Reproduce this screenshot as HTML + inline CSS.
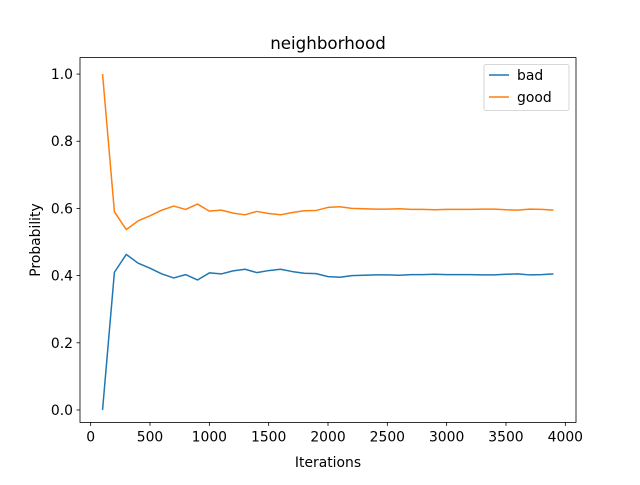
<!DOCTYPE html>
<html><head><meta charset="utf-8"><style>
body{margin:0;background:#fff;font-family:"Liberation Sans","DejaVu Sans",sans-serif}
svg text{font-family:"DejaVu Sans","Liberation Sans",sans-serif;font-size:13.9px;fill:#000}
</style></head><body>
<svg id="c" width="640" height="480">
<rect width="640" height="480" fill="#fff"/>
</svg>
<script>
const iterations=[100,200,300,400,500,600,700,800,900,1000,1100,1200,1300,1400,1500,1600,1700,1800,1900,2000,2100,2200,2300,2400,2500,2600,2700,2800,2900,3000,3100,3200,3300,3400,3500,3600,3700,3800,3900];
const badValues=[0,0.41,0.463,0.437,0.422,0.405,0.393,0.403,0.387,0.408,0.405,0.414,0.419,0.409,0.415,0.419,0.412,0.407,0.406,0.397,0.395,0.400,0.401,0.402,0.402,0.401,0.403,0.403,0.404,0.403,0.403,0.403,0.402,0.402,0.404,0.405,0.402,0.403,0.405];
const goodValues=[1,0.59,0.537,0.563,0.578,0.595,0.607,0.597,0.613,0.592,0.595,0.586,0.581,0.591,0.585,0.581,0.588,0.593,0.594,0.603,0.605,0.600,0.599,0.598,0.598,0.599,0.597,0.597,0.596,0.597,0.597,0.597,0.598,0.598,0.596,0.595,0.598,0.597,0.595];
const xTicks=[0,500,1000,1500,2000,2500,3000,3500,4000];
const yTicks=[0,0.2,0.4,0.6,0.8,1.0];
const yTickLabels=["0.0","0.2","0.4","0.6","0.8","1.0"];
const L=80,R=576,T=57.6,B=422.4;
const xmin=-90,xmax=4090,ymin=-0.037,ymax=1.049;
const X=v=>L+(v-xmin)/(xmax-xmin)*(R-L);
const Y=v=>B-(v-ymin)/(ymax-ymin)*(B-T);
const svg=document.getElementById('c');const NS='http://www.w3.org/2000/svg';
function mk(t,a,p){const e=document.createElementNS(NS,t);for(const k in a)e.setAttribute(k,a[k]);(p||svg).appendChild(e);return e;}
function line(vals,color,name){
const p=mk('polyline',{points:iterations.map((x,i)=>X(x)+','+Y(vals[i])).join(' '),fill:'none',stroke:color,'stroke-width':1.5,'stroke-linejoin':'round'});

}
line(badValues,'#1f77b4','series-bad');
line(goodValues,'#ff7f0e','series-good');
const fr=mk('rect',{x:L,y:T,width:R-L,height:B-T,fill:'none',stroke:'#000','stroke-width':0.8});


xTicks.forEach(v=>{mk('line',{x1:X(v),x2:X(v),y1:B,y2:B+3.5,stroke:'#000','stroke-width':0.8});
const t=mk('text',{x:X(v),y:B+19,'text-anchor':'middle'});t.textContent=v;

});
yTicks.forEach((v,i)=>{mk('line',{x1:L-3.5,x2:L,y1:Y(v),y2:Y(v),stroke:'#000','stroke-width':0.8});
const t=mk('text',{x:L-7,y:Y(v)+5,'text-anchor':'end'});t.textContent=yTickLabels[i];

});
let t=mk('text',{x:(L+R)/2,y:467,'text-anchor':'middle'});t.textContent='Iterations';


t=mk('text',{x:0,y:0,'text-anchor':'middle',transform:'translate(40,240) rotate(-90)'});t.textContent='Probability';


t=mk('text',{x:(L+R)/2,y:49,'text-anchor':'middle',style:'font-size:16.7px'});t.textContent='neighborhood';


const g=mk('g',{});


mk('rect',{x:484,y:64.5,width:85,height:46,rx:2,fill:'#fff','fill-opacity':0.8,stroke:'#ccc','stroke-width':0.8},g);
[['bad','#1f77b4',75],['good','#ff7f0e',97]].forEach(([n,c,y])=>{
mk('line',{x1:489,x2:509,y1:y,y2:y,stroke:c,'stroke-width':1.5},g);
const tt=mk('text',{x:517,y:y+5},g);tt.textContent=n;

});
</script>
</body></html>
